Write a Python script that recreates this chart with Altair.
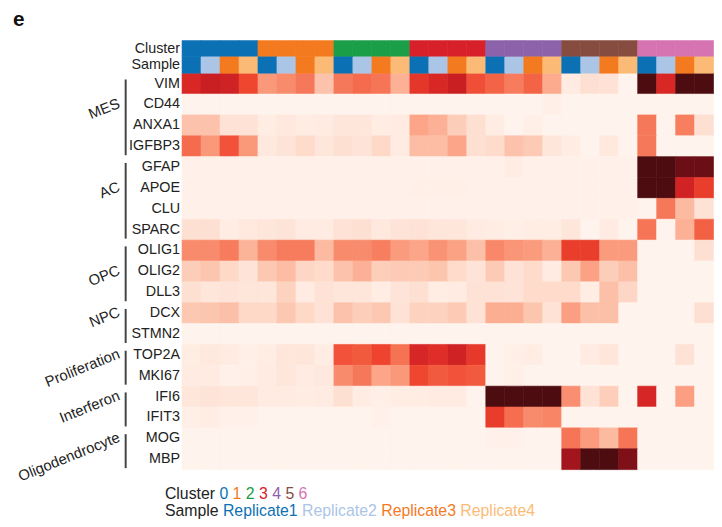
import altair as alt
import pandas as pd

# ---------------- data ----------------
CLUSTERS = ["0", "1", "2", "3", "4", "5", "6"]
SAMPLES = ["Replicate1", "Replicate2", "Replicate3", "Replicate4"]
CLUSTER_COLORS = ["#0c71b4", "#f47a1f", "#1b9e48", "#d7202a", "#8c62aa", "#864c3f", "#d574b1"]
SAMPLE_COLORS = ["#0c71b4", "#abc5e7", "#f47a1f", "#fbbb76"]

GROUPS = ["MES", "AC", "OPC", "NPC", "Proliferation", "Interferon", "Oligodendrocyte"]
GROUP_GENES = [
    ["VIM", "CD44", "ANXA1", "IGFBP3"],
    ["GFAP", "APOE", "CLU", "SPARC"],
    ["OLIG1", "OLIG2", "DLL3"],
    ["DCX", "STMN2"],
    ["TOP2A", "MKI67"],
    ["IFI6", "IFIT3"],
    ["MOG", "MBP"],
]

# scaled expression, columns = cluster 0..6 x Replicate1..4
VIM = [0.72, 0.78, 0.76, 0.60, 0.36, 0.40, 0.46, 0.22, 0.46, 0.50, 0.47, 0.28, 0.66, 0.72,
       0.78, 0.58, 0.52, 0.45, 0.52, 0.30, 0.05, 0.10, 0.09, 0.01, 1.00, 0.72, 1.00, 1.00]
CD44 = [0.01, 0.01, 0.01, 0.01, 0.01, 0.01, 0.01, 0.01, 0.01, 0.01, 0.01, 0.01, 0.01, 0.01,
        0.01, 0.01, 0.01, 0.01, 0.01, 0.03, 0.01, 0.01, 0.01, 0.01, 0.01, 0.01, 0.01, 0.01]
ANXA1 = [0.22, 0.22, 0.09, 0.09, 0.04, 0.06, 0.04, 0.05, 0.07, 0.07, 0.04, 0.05, 0.32, 0.28,
         0.18, 0.10, 0.04, 0.01, 0.03, 0.01, 0.01, 0.01, 0.01, 0.01, 0.46, 0.01, 0.44, 0.10]
IGFBP3 = [0.50, 0.36, 0.57, 0.36, 0.06, 0.08, 0.12, 0.07, 0.10, 0.08, 0.13, 0.05, 0.24, 0.24,
          0.32, 0.10, 0.12, 0.22, 0.19, 0.07, 0.04, 0.01, 0.06, 0.01, 0.46, 0.01, 0.01, 0.01]
GFAP = [0.02, 0.02, 0.02, 0.02, 0.02, 0.02, 0.02, 0.02, 0.02, 0.02, 0.02, 0.02, 0.02, 0.02,
        0.02, 0.02, 0.02, 0.04, 0.02, 0.02, 0.02, 0.02, 0.02, 0.02, 1.00, 1.00, 0.95, 0.95]
APOE = [0.02, 0.02, 0.02, 0.02, 0.02, 0.02, 0.02, 0.02, 0.02, 0.02, 0.02, 0.02, 0.03, 0.03,
        0.03, 0.02, 0.02, 0.02, 0.02, 0.02, 0.02, 0.02, 0.02, 0.02, 1.00, 1.00, 0.75, 0.63]
CLU = [0.02, 0.02, 0.02, 0.02, 0.02, 0.02, 0.02, 0.02, 0.02, 0.02, 0.02, 0.02, 0.02, 0.02,
       0.02, 0.02, 0.02, 0.02, 0.02, 0.02, 0.02, 0.02, 0.02, 0.02, 0.01, 0.46, 0.25, 0.09]
SPARC = [0.10, 0.10, 0.04, 0.06, 0.07, 0.08, 0.05, 0.05, 0.09, 0.10, 0.06, 0.08, 0.09, 0.07,
         0.07, 0.05, 0.04, 0.03, 0.04, 0.04, 0.07, 0.01, 0.05, 0.01, 0.47, 0.01, 0.28, 0.53]
OLIG1 = [0.40, 0.40, 0.45, 0.27, 0.40, 0.45, 0.45, 0.25, 0.40, 0.40, 0.44, 0.35, 0.32, 0.38,
         0.33, 0.23, 0.41, 0.37, 0.35, 0.28, 0.63, 0.63, 0.35, 0.35, 0.01, 0.01, 0.01, 0.10]
OLIG2 = [0.18, 0.21, 0.13, 0.08, 0.20, 0.24, 0.14, 0.12, 0.22, 0.28, 0.17, 0.19, 0.19, 0.21,
         0.12, 0.08, 0.19, 0.09, 0.12, 0.05, 0.20, 0.33, 0.18, 0.23, 0.01, 0.01, 0.01, 0.01]
DLL3 = [0.10, 0.07, 0.08, 0.07, 0.07, 0.16, 0.05, 0.09, 0.07, 0.07, 0.04, 0.08, 0.10, 0.04,
        0.05, 0.09, 0.09, 0.08, 0.12, 0.12, 0.12, 0.04, 0.23, 0.14, 0.01, 0.01, 0.01, 0.01]
DCX = [0.20, 0.21, 0.23, 0.13, 0.13, 0.20, 0.13, 0.09, 0.22, 0.17, 0.20, 0.09, 0.16, 0.16,
       0.19, 0.09, 0.29, 0.29, 0.21, 0.09, 0.34, 0.23, 0.23, 0.01, 0.01, 0.01, 0.01, 0.10]
STMN2 = [0.01, 0.01, 0.01, 0.01, 0.01, 0.01, 0.01, 0.01, 0.01, 0.01, 0.01, 0.01, 0.01, 0.01,
         0.01, 0.01, 0.01, 0.01, 0.01, 0.01, 0.01, 0.01, 0.01, 0.01, 0.01, 0.01, 0.01, 0.01]
TOP2A = [0.04, 0.06, 0.05, 0.03, 0.04, 0.07, 0.07, 0.04, 0.57, 0.55, 0.61, 0.48, 0.73, 0.69,
         0.76, 0.65, 0.01, 0.03, 0.04, 0.01, 0.01, 0.05, 0.07, 0.01, 0.01, 0.01, 0.09, 0.01]
MKI67 = [0.05, 0.05, 0.02, 0.03, 0.05, 0.07, 0.05, 0.06, 0.40, 0.46, 0.32, 0.36, 0.60, 0.55,
         0.57, 0.55, 0.01, 0.03, 0.01, 0.01, 0.01, 0.01, 0.01, 0.01, 0.01, 0.01, 0.01, 0.01]
IFI6 = [0.07, 0.08, 0.07, 0.07, 0.05, 0.05, 0.04, 0.05, 0.10, 0.04, 0.03, 0.04, 0.04, 0.05,
        0.05, 0.01, 1.00, 1.00, 1.00, 1.00, 0.39, 0.09, 0.17, 0.01, 0.73, 0.01, 0.34, 0.01]
IFIT3 = [0.03, 0.04, 0.02, 0.02, 0.01, 0.01, 0.01, 0.01, 0.01, 0.01, 0.02, 0.01, 0.01, 0.01,
         0.01, 0.01, 0.64, 0.49, 0.40, 0.42, 0.01, 0.01, 0.01, 0.01, 0.01, 0.01, 0.01, 0.01]
MOG = [0.01, 0.01, 0.01, 0.01, 0.01, 0.01, 0.01, 0.01, 0.01, 0.01, 0.01, 0.01, 0.01, 0.01,
       0.01, 0.01, 0.02, 0.02, 0.01, 0.01, 0.47, 0.35, 0.25, 0.47, 0.01, 0.01, 0.01, 0.01]
MBP = [0.01, 0.01, 0.01, 0.01, 0.01, 0.01, 0.01, 0.01, 0.01, 0.01, 0.01, 0.01, 0.01, 0.01,
       0.01, 0.01, 0.01, 0.01, 0.01, 0.01, 0.86, 1.00, 1.00, 0.92, 0.01, 0.01, 0.01, 0.01]

ROWS = {
    "VIM": VIM, "CD44": CD44, "ANXA1": ANXA1, "IGFBP3": IGFBP3,
    "GFAP": GFAP, "APOE": APOE, "CLU": CLU, "SPARC": SPARC,
    "OLIG1": OLIG1, "OLIG2": OLIG2, "DLL3": DLL3,
    "DCX": DCX, "STMN2": STMN2,
    "TOP2A": TOP2A, "MKI67": MKI67,
    "IFI6": IFI6, "IFIT3": IFIT3,
    "MOG": MOG, "MBP": MBP,
}
GENES = [g for grp in GROUP_GENES for g in grp]

# colour ramp (Reds, ending in a very dark maroon)
RAMP_STOPS = [0.0, 0.1, 0.2, 0.3, 0.4, 0.5, 0.6, 0.7, 0.8, 0.9, 1.0]
RAMP_COLORS = ["#fff5f0", "#fee0d2", "#fcc8b2", "#fcab8f", "#f98b6d", "#f46b4d",
               "#ef4630", "#de2a26", "#c41c22", "#8c1118", "#4d0c10"]

# ---------------- layout (pixels inside the chart) ----------------
W, H = 714, 519
X0, X1 = 176, 713.6
ANN_TOP, ANN_BOT = 30, 63
ROW_TOP, ROW_H = 63, 21.1
ROW_BOT = ROW_TOP + ROW_H * len(GENES)
FONT = "Liberation Sans, Arial, Helvetica, sans-serif"
TXT = "#222222"

NCOL = len(CLUSTERS) * len(SAMPLES)
col_ids = list(range(NCOL))

heat = pd.DataFrame([
    {"gene": g, "col": ci, "value": ROWS[g][ci]} for g in GENES for ci in col_ids
])
ann = pd.DataFrame(
    [{"row": "Cluster", "col": ci, "hex": CLUSTER_COLORS[ci // len(SAMPLES)]} for ci in col_ids]
    + [{"row": "Sample", "col": ci, "hex": SAMPLE_COLORS[ci % len(SAMPLES)]} for ci in col_ids]
)

x_scale = alt.Scale(domain=col_ids, range=[X0, X1], paddingInner=0, paddingOuter=0)
gene_scale = alt.Scale(domain=GENES, range=[ROW_TOP, ROW_BOT], paddingInner=0, paddingOuter=0)
ann_scale = alt.Scale(domain=["Cluster", "Sample"], range=[ANN_TOP, ANN_BOT],
                      paddingInner=0, paddingOuter=0)
heat_color = alt.Scale(domain=RAMP_STOPS, range=RAMP_COLORS, type="linear")

heatmap = alt.Chart(heat).mark_rect(strokeWidth=0.6).encode(
    x=alt.X("col:O", scale=x_scale, axis=None),
    y=alt.Y("gene:N", scale=gene_scale, axis=None),
    color=alt.Color("value:Q", scale=heat_color, legend=None),
    stroke=alt.Stroke("value:Q", scale=heat_color, legend=None),
)

gene_labels = alt.Chart(pd.DataFrame({"gene": GENES})).mark_text(
    align="right", baseline="middle", font=FONT, fontSize=14.5, color=TXT
).encode(
    y=alt.Y("gene:N", scale=gene_scale, axis=None),
    x=alt.value(X0 - 2),
    text="gene:N",
)

ann_rect = alt.Chart(ann).mark_rect(strokeWidth=0.6).encode(
    x=alt.X("col:O", scale=x_scale, axis=None),
    y=alt.Y("row:N", scale=ann_scale, axis=None),
    color=alt.Color("hex:N", scale=None),
    stroke=alt.Stroke("hex:N", scale=None),
)

ann_labels = alt.Chart(pd.DataFrame({"row": ["Cluster", "Sample"]})).mark_text(
    align="right", baseline="middle", font=FONT, fontSize=14.5, color=TXT
).encode(
    y=alt.Y("row:N", scale=ann_scale, axis=None),
    x=alt.value(X0 - 2),
    text="row:N",
)

brackets_df = pd.DataFrame({
    "group": GROUPS,
    "first": [gg[0] for gg in GROUP_GENES],
    "last": [gg[-1] for gg in GROUP_GENES],
})
brackets = alt.Chart(brackets_df).mark_rule(color="#444444", strokeWidth=2).encode(
    x=alt.value(119),
    y=alt.Y("first:N", scale=gene_scale, axis=None, bandPosition=0.3),
    y2=alt.Y2("last:N", bandPosition=0.93),
)

even_df = pd.DataFrame({
    "group": [g for g, gg in zip(GROUPS, GROUP_GENES) if len(gg) % 2 == 0],
    "anchor": [gg[len(gg) // 2 - 1] for gg in GROUP_GENES if len(gg) % 2 == 0],
})
odd_df = pd.DataFrame({
    "group": [g for g, gg in zip(GROUPS, GROUP_GENES) if len(gg) % 2 == 1],
    "anchor": [gg[len(gg) // 2] for gg in GROUP_GENES if len(gg) % 2 == 1],
})
grp_text = dict(align="right", baseline="alphabetic", angle=338, font=FONT,
                fontSize=15, color=TXT, dy=3)
group_even = alt.Chart(even_df).mark_text(**grp_text).encode(
    x=alt.value(113),
    y=alt.Y("anchor:N", scale=gene_scale, axis=None, bandPosition=1.0),
    text="group:N",
)
group_odd = alt.Chart(odd_df).mark_text(**grp_text).encode(
    x=alt.value(113),
    y=alt.Y("anchor:N", scale=gene_scale, axis=None, bandPosition=0.5),
    text="group:N",
)

# legend rows laid out with Arial advance widths
ADV = {"C": .722, "l": .222, "u": .556, "s": .5, "t": .278, "e": .556, "r": .333,
       "S": .667, "a": .556, "m": .833, "p": .556, "R": .722, "i": .222, "c": .5,
       " ": .278}
LEG_FS = 16


def text_w(s):
    return sum(ADV.get(ch, .556) for ch in s) * LEG_FS


leg_rows = []
for title, items, colors, base in [("Cluster", CLUSTERS, CLUSTER_COLORS, 494),
                                   ("Sample", SAMPLES, SAMPLE_COLORS, 511)]:
    x = 158.7
    leg_rows.append({"t": title, "lx": x, "ly": base, "c": TXT})
    x += text_w(title + " ")
    for it, c in zip(items, colors):
        leg_rows.append({"t": it, "lx": x, "ly": base, "c": c})
        x += text_w(it + " ")
legend = alt.Chart(pd.DataFrame(leg_rows)).mark_text(
    align="left", baseline="alphabetic", font=FONT, fontSize=LEG_FS
).encode(
    x=alt.X("lx:Q", scale=None, axis=None),
    y=alt.Y("ly:Q", scale=None, axis=None),
    text="t:N",
    color=alt.Color("c:N", scale=None),
)

panel = alt.Chart(pd.DataFrame({"t": ["e"]})).mark_text(
    align="left", baseline="alphabetic", font=FONT, fontSize=21, fontWeight="bold", color="#111111"
).encode(x=alt.value(5), y=alt.value(15), text="t:N")

chart = alt.layer(
    heatmap, ann_rect, gene_labels, ann_labels, brackets, group_even, group_odd, legend, panel
).resolve_scale(
    y="independent", color="independent", stroke="independent"
).properties(
    width=W, height=H, autosize=alt.AutoSizeParams(type="none"), padding=0,
    background="white",
).configure_view(stroke=None)

chart.save("out.html", embed_options={"renderer": "svg", "actions": False})
